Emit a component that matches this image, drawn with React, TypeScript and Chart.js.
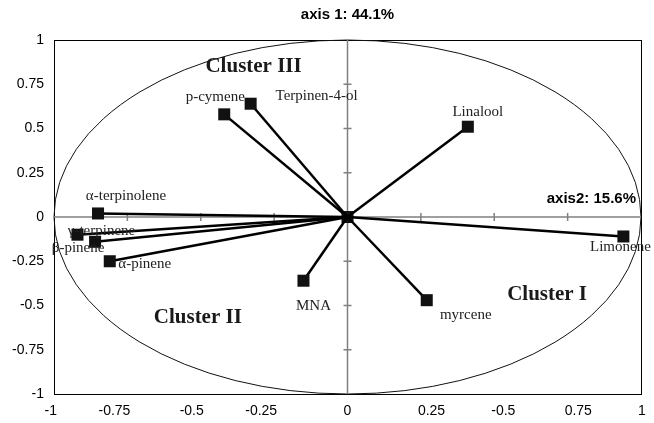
import { useEffect, useRef } from "react";
import { Chart, registerables } from "chart.js";

Chart.register(...registerables);

const variables = [
  "Linalool",
  "Limonene",
  "myrcene",
  "MNA",
  "p-cymene",
  "Terpinen-4-ol",
  "α-terpinolene",
  "γ-terpinene",
  "β-pinene",
  "α-pinene",
];
const axis1Values = [0.41, 0.94, 0.27, -0.15, -0.42, -0.33, -0.85, -0.92, -0.86, -0.81];
const axis2Values = [0.51, -0.11, -0.47, -0.36, 0.58, 0.64, 0.02, -0.1, -0.14, -0.25];

const xTickValues = [-1, -0.75, -0.5, -0.25, 0, 0.25, 0.5, 0.75, 1];
const xTickLabels = ["-1", "-0.75", "-0.5", "-0.25", "0", "0.25", "-0.5", "0.75", "1"];
const yTickLabels = ["-1", "-0.75", "-0.5", "-0.25", "0", "0.25", "0.5", "0.75", "1"];

const clusterNames = ["Cluster III", "Cluster II", "Cluster I"];
const clusterX = [-0.32, -0.51, 0.68];
const clusterY = [0.85, -0.57, -0.44];

const titleText = "axis 1: 44.1%";
const axis2Text = "axis2: 15.6%";

// label placement (pixel offsets of each variable label from its marker)
const labelOffsets: [number, number][] = [
  [10, -15],
  [-3, 11],
  [39, 15],
  [10, 25],
  [-9, -17],
  [66, -8],
  [28, -17],
  [24, -4],
  [-17, 6],
  [35, 3],
];

const SANS = "'Liberation Sans', Arial, sans-serif";
const SERIF = "'Liberation Serif', 'Times New Roman', serif";

const decorPlugin = {
  id: "decor",
  beforeDatasetsDraw(chart: any) {
    const { ctx, chartArea, scales } = chart;
    const xs = scales.x;
    const ys = scales.y;
    const cx = xs.getPixelForValue(0);
    const cy = ys.getPixelForValue(0);
    const rx = xs.getPixelForValue(1) - cx;
    const ry = cy - ys.getPixelForValue(1);
    ctx.save();
    // frame
    ctx.strokeStyle = "#000";
    ctx.lineWidth = 1;
    ctx.strokeRect(
      Math.round(chartArea.left) + 0.5,
      Math.round(chartArea.top) + 0.5,
      Math.round(chartArea.right - chartArea.left),
      Math.round(chartArea.bottom - chartArea.top)
    );
    // ellipse (unit circle)
    ctx.beginPath();
    ctx.ellipse(cx, cy, rx, ry, 0, 0, Math.PI * 2);
    ctx.strokeStyle = "#111";
    ctx.lineWidth = 1;
    ctx.stroke();
    // axes through origin
    ctx.strokeStyle = "#808080";
    ctx.lineWidth = 1.5;
    ctx.beginPath();
    ctx.moveTo(chartArea.left, cy);
    ctx.lineTo(chartArea.right, cy);
    ctx.moveTo(cx, chartArea.top);
    ctx.lineTo(cx, chartArea.bottom);
    for (let i = 1; i < 8; i++) {
      const v = -1 + i * 0.25;
      if (Math.abs(v) < 1e-9) continue;
      const px = xs.getPixelForValue(v);
      ctx.moveTo(px, cy - 4);
      ctx.lineTo(px, cy + 4);
      const py = ys.getPixelForValue(v);
      ctx.moveTo(cx - 4, py);
      ctx.lineTo(cx + 4, py);
    }
    ctx.stroke();
    ctx.restore();
  },
  afterDatasetsDraw(chart: any) {
    const { ctx, chartArea, scales } = chart;
    const xs = scales.x;
    const ys = scales.y;
    ctx.save();
    ctx.textAlign = "center";
    ctx.textBaseline = "middle";
    // x tick labels (negatives hang left of their tick, positives right)
    ctx.fillStyle = "#000";
    ctx.font = `14px ${SANS}`;
    xTickValues.forEach((v, i) => {
      const px = xs.getPixelForValue(v);
      if (v < 0) {
        ctx.textAlign = "right";
        ctx.fillText(xTickLabels[i], px + 3, chartArea.bottom + 17);
      } else if (v > 0) {
        ctx.textAlign = "left";
        ctx.fillText(xTickLabels[i], px - 3, chartArea.bottom + 17);
      } else {
        ctx.textAlign = "center";
        ctx.fillText(xTickLabels[i], px, chartArea.bottom + 17);
      }
    });
    ctx.textAlign = "center";
    // variable labels
    ctx.fillStyle = "#222";
    ctx.font = `15px ${SERIF}`;
    variables.forEach((name, i) => {
      const px = xs.getPixelForValue(axis1Values[i]) + labelOffsets[i][0];
      const py = ys.getPixelForValue(axis2Values[i]) + labelOffsets[i][1];
      ctx.fillText(name, px, py);
    });
    // cluster labels
    ctx.fillStyle = "#1a1a1a";
    ctx.font = `bold 21px ${SERIF}`;
    clusterNames.forEach((name, i) => {
      ctx.fillText(name, xs.getPixelForValue(clusterX[i]), ys.getPixelForValue(clusterY[i]));
    });
    // title
    ctx.fillStyle = "#000";
    ctx.font = `bold 15px ${SANS}`;
    ctx.fillText(titleText, xs.getPixelForValue(0), 15);
    // axis 2 label
    ctx.textAlign = "right";
    ctx.fillText(axis2Text, chartArea.right - 5, ys.getPixelForValue(0) - 18);
    ctx.restore();
  },
};

export default function App() {
  const canvasRef = useRef<HTMLCanvasElement | null>(null);

  useEffect(() => {
    if (!canvasRef.current) return;
    const datasets: any[] = variables.map((name, i) => ({
      label: name,
      data: [
        { x: 0, y: 0 },
        { x: axis1Values[i], y: axis2Values[i] },
      ],
      showLine: true,
      borderColor: "#000",
      borderWidth: 2.5,
      pointStyle: "rect",
      pointRadius: [0, 8.5],
      pointBackgroundColor: "#111",
      pointBorderColor: "#111",
      pointBorderWidth: 0,
    }));
    datasets.push({
      label: "origin",
      data: [{ x: 0, y: 0 }],
      pointStyle: "rect",
      pointRadius: 8.5,
      pointBackgroundColor: "#111",
      pointBorderWidth: 0,
    });

    const chart = new Chart(canvasRef.current, {
      type: "scatter",
      data: { datasets },
      options: {
        responsive: false,
        animation: false,
        layout: { padding: { top: 40, right: 13, left: 0, bottom: 0 } },
        plugins: {
          legend: { display: false },
          tooltip: { enabled: false },
          title: { display: false },
        },
        scales: {
          x: {
            type: "linear",
            min: -1,
            max: 1,
            grid: { display: false, drawTicks: false },
            border: { display: false },
            ticks: {
              display: false,
              stepSize: 0.25,
            },
            afterFit: (s: any) => {
              s.height = 29;
            },
          },
          y: {
            type: "linear",
            min: -1,
            max: 1,
            grid: { display: false, drawTicks: false },
            border: { display: false },
            ticks: {
              stepSize: 0.25,
              padding: 10,
              color: "#000",
              font: { size: 14, family: SANS },
              autoSkip: false,
              callback: (v: any) => yTickLabels[Math.round((Number(v) + 1) / 0.25)] ?? "",
            },
            afterFit: (s: any) => {
              s.width = 54;
            },
          },
        },
      } as any,
      plugins: [decorPlugin],
    });
    return () => chart.destroy();
  }, []);

  return (
    <div style={{ position: "fixed", left: 0, top: 0, width: 654, height: 423, background: "#fff" }}>
      <canvas ref={canvasRef} width={654} height={423} style={{ display: "block" }} />
    </div>
  );
}
